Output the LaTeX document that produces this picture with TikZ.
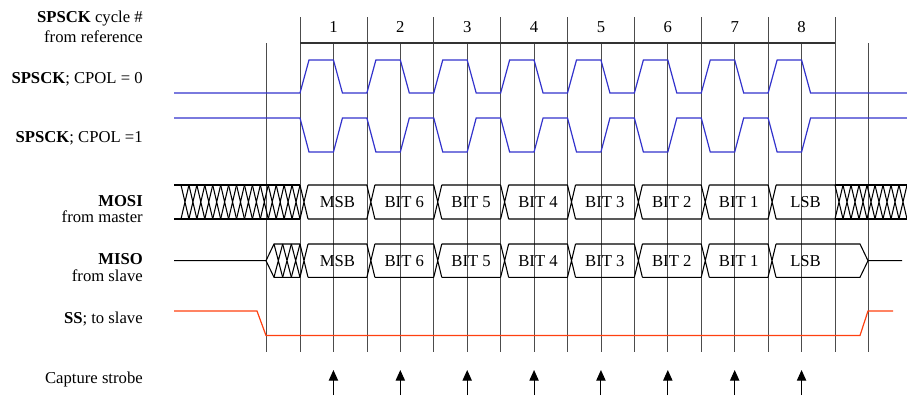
\documentclass[tikz,border=0pt]{standalone}
\usepackage{fontspec}
\setmainfont{Liberation Serif}
\usepackage{tikz}
\usetikzlibrary{arrows.meta, calc}
\definecolor{clkBlue}{RGB}{51, 51, 204}
\definecolor{ssRed}{RGB}{255, 64, 16}
\def\pw{66.875}
\def\hw{33.4375}

\begin{document}
\begin{tikzpicture}[
    x=0.75pt, y=-0.75pt,
    every node/.style={font=\fontsize{12.5}{15}\selectfont},
    lbl/.style={anchor=base east, inner sep=0pt},
    gridline/.style={draw=black!70, line width=0.5pt},
    clk/.style={draw=clkBlue, line width=0.9pt},
    bus/.style={draw=black, line width=0.8pt},
    sel/.style={draw=ssRed, line width=0.9pt},
    strobe/.style={-{Triangle[length=8pt, width=7pt]}, line width=0.8pt}
]
\useasboundingbox (0,0) rectangle (907,397);

% Signal names
\node[lbl] (cyc) at (143,22) {\textbf{SPSCK} cycle \#};
\node[lbl] (cycref) at (143,42) {from reference};
\node[lbl] (cpolzero) at (143,83) {\textbf{SPSCK}; CPOL = 0};
\node[lbl] (cpolone) at (143,142) {\textbf{SPSCK}; CPOL =1};
\node[lbl] (mosi) at (143,206) {\textbf{MOSI}};
\node[lbl] (mosifrom) at (143,222) {from master};
\node[lbl] (miso) at (143,264) {\textbf{MISO}};
\node[lbl] (misofrom) at (143,281) {from slave};
\node[lbl] (ss) at (143,323) {\textbf{SS}; to slave};
\node[lbl] (strobe) at (143,383) {Capture strobe};

% Grid and cycle numbers
\foreach \k in {0,...,8}
    \draw[gridline] ({300+\k*\pw},17) -- ({300+\k*\pw},352);
\foreach \k in {-1,...,8}
    \draw[gridline] ({300+\k*\pw+\hw},43) -- ({300+\k*\pw+\hw},352);
\draw[gridline, line width=0.9pt, draw=black!80] (300,43) -- (835,43);
\foreach \k in {1,...,8}
    \node[anchor=base] (n\k) at ({300+(\k-1)*\pw+\hw},32) {\k};

% Clock, CPOL = 0
\draw[clk] (174,93) -- (300,93)
    \foreach \k in {0,...,7} {
        -- ({300+\k*\pw+9},60) -- ({300+\k*\pw+\hw},60)
        -- ({300+\k*\pw+\hw+9},93) -- ({300+(\k+1)*\pw},93)
    } -- (907,93);

% Clock, CPOL = 1
\draw[clk] (174,118) -- (300,118)
    \foreach \k in {0,...,7} {
        -- ({300+\k*\pw+9},152) -- ({300+\k*\pw+\hw},152)
        -- ({300+\k*\pw+\hw+9},118) -- ({300+(\k+1)*\pw},118)
    } -- (907,118);

% MOSI
\draw[bus] (174,185) -- (300,185) (174,219) -- (300,219);
\foreach \i in {0,...,14}
    \draw[bus] ({181+\i*7.933},185) -- ({181+(\i+1)*7.933},219)
               ({181+\i*7.933},219) -- ({181+(\i+1)*7.933},185);
\foreach \k in {0,...,7}
    \draw[bus] ({300+\k*\pw},185) -- ({308+\k*\pw},219)
               ({300+\k*\pw},219) -- ({308+\k*\pw},185)
               ({308+\k*\pw},185) -- ({300+(\k+1)*\pw},185)
               ({308+\k*\pw},219) -- ({300+(\k+1)*\pw},219);
\draw[bus] (835,185) -- (907,185) (835,219) -- (907,219);
\foreach \i in {0,...,8}
    \draw[bus] ({835+\i*8},185) -- ({843+\i*8},219)
               ({835+\i*8},219) -- ({843+\i*8},185);
\foreach \k/\t in {1/MSB, 2/BIT 6, 3/BIT 5, 4/BIT 4, 5/BIT 3, 6/BIT 2, 7/BIT 1, 8/LSB}
    \node (mosi\k) at ({300+(\k-1)*\pw+37.4},202) {\t};

% MISO
\draw[bus] (174,260.7) -- (266,260.7) -- (274,244) -- (300,244)
           (266,260.7) -- (274,277.3) -- (300,277.3);
\foreach \i in {0,...,2}
    \draw[bus] ({274+\i*8.667},244) -- ({274+(\i+1)*8.667},277.3)
               ({274+\i*8.667},277.3) -- ({274+(\i+1)*8.667},244);
\foreach \k in {0,...,6}
    \draw[bus] ({300+\k*\pw},244) -- ({308+\k*\pw},277.3)
               ({300+\k*\pw},277.3) -- ({308+\k*\pw},244)
               ({308+\k*\pw},244) -- ({300+(\k+1)*\pw},244)
               ({308+\k*\pw},277.3) -- ({300+(\k+1)*\pw},277.3);
\draw[bus] (768,244) -- (776,277.3) (768,277.3) -- (776,244)
           (776,244) -- (860,244) -- (868,260.7) -- (860,277.3) -- (776,277.3)
           (868,260.7) -- (902,260.7);
\foreach \k/\t in {1/MSB, 2/BIT 6, 3/BIT 5, 4/BIT 4, 5/BIT 3, 6/BIT 2, 7/BIT 1, 8/LSB}
    \node (miso\k) at ({300+(\k-1)*\pw+37.4},260.7) {\t};

% SS
\draw[sel] (174,311) -- (257,311) -- (266,335.5) -- (860,335.5) -- (868,311) -- (893,311);

% Capture strobe
\foreach \k in {0,...,7}
    \draw[strobe] ({300+\k*\pw+\hw},395) -- ({300+\k*\pw+\hw},370);

\end{tikzpicture}
\end{document}
